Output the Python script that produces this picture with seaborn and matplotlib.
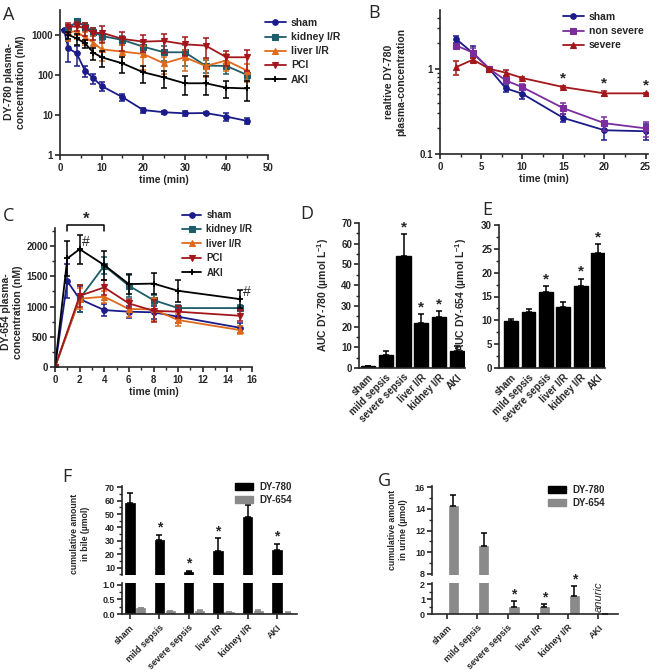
import numpy as np
import matplotlib
matplotlib.use("Agg")
import matplotlib.pyplot as plt
import seaborn as sns
from matplotlib.ticker import MultipleLocator, FixedLocator, NullFormatter, FormatStrFormatter
from matplotlib.lines import Line2D
from matplotlib.patches import Patch

# ---- panel A: DY-780 plasma concentration (nM)
a_time = [1, 2, 4, 6, 8, 10, 15, 20, 25, 30, 35, 40, 45]
a_time_inj = [2, 4, 6, 8, 10, 15, 20, 25, 30, 35, 40, 45]
a_sham = [1300, 464, 347, 128, 83, 53, 28, 13.3, 11.7, 11, 11.2, 9.1, 7.1]
a_sham_err = [0, 250, 180, 40, 25, 14, 6, 1.8, 1, 1.5, 0.8, 2.2, 1.3]
a_kidney = [1380, 2240, 1620, 1210, 944, 750, 510, 369, 369, 171, 168, 100]
a_kidney_err = [300, 300, 350, 250, 200, 200, 150, 150, 200, 60, 60, 25]
a_liver = [1210, 1210, 873, 644, 437, 383, 335, 195, 277, 168, 229, 128]
a_liver_err = [500, 400, 300, 300, 220, 180, 200, 90, 150, 80, 100, 60]
a_pci = [1550, 1680, 1468, 1100, 1140, 795, 681, 707, 584, 541, 277, 277]
a_pci_err = [400, 450, 500, 350, 500, 400, 300, 350, 280, 280, 110, 150]
a_aki = [1000, 826, 619, 362, 277, 195, 117, 87, 62, 62, 48, 46]
a_aki_err = [200, 250, 150, 120, 120, 80, 55, 40, 30, 30, 22, 24]

# ---- panel B: relative DY-780 concentration
b_time = [2, 4, 6, 8, 10, 15, 20, 25]
b_sham = [2.22, 1.53, 1.0, 0.59, 0.51, 0.265, 0.19, 0.185]
b_sham_err = [0.22, 0.3, 0.0, 0.06, 0.07, 0.03, 0.045, 0.04]
b_nonsev = [1.87, 1.55, 1.0, 0.73, 0.61, 0.345, 0.23, 0.2]
b_nonsev_err = [0.1, 0.2, 0.0, 0.05, 0.05, 0.05, 0.045, 0.04]
b_severe = [1.05, 1.28, 1.0, 0.9, 0.78, 0.61, 0.515, 0.515]
b_severe_err = [0.2, 0.07, 0.0, 0.08, 0.03, 0.02, 0.04, 0.01]
b_star_time = [15, 20, 25]

# ---- panel C: DY-654 plasma concentration (nM)
c_time = [0, 1, 2, 4, 6, 8, 10, 15]
c_time_inj = [0, 2, 4, 6, 8, 10, 15]
c_sham = [0, 1420, 1124, 942, 915, 905, 832, 650]
c_sham_err = [0, 280, 220, 100, 100, 110, 100, 80]
c_kidney = [0, 1130, 1675, 1344, 1107, 975, 975]
c_kidney_err = [0, 220, 140, 180, 80, 50, 50]
c_liver = [0, 1130, 1163, 960, 953, 777, 612]
c_liver_err = [0, 170, 100, 130, 190, 100, 60]
c_pci = [0, 1178, 1317, 1052, 930, 915, 848]
c_pci_err = [0, 180, 130, 80, 180, 100, 90]
c_aki = [0, 1796, 1950, 1686, 1372, 1380, 1261, 1124]
c_aki_err = [0, 290, 240, 240, 170, 180, 180, 150]

# ---- panels D-G: bars
groups = ["sham", "mild sepsis", "severe sepsis", "liver I/R", "kidney I/R", "AKI"]
d_auc = [0.8, 6.5, 54.0, 21.5, 24.5, 8.0]
d_auc_err = [0.2, 1.5, 10.5, 4.5, 3.0, 2.5]
d_star = [False, False, True, True, True, False]
e_auc = [9.8, 11.7, 16.0, 12.9, 17.3, 24.2]
e_auc_err = [0.5, 0.7, 1.1, 1.0, 1.4, 1.8]
e_star = [False, False, True, False, True, True]
f_dy780 = [58.5, 30.3, 7.1, 22.5, 47.6, 23.2]
f_dy780_err = [7.5, 4.2, 0.6, 9.5, 9.2, 4.5]
f_dy654 = [0.2, 0.09, 0.09, 0.06, 0.09, 0.05]
f_dy654_err = [0.02, 0.02, 0.03, 0.01, 0.03, 0.01]
f_star = [False, True, True, True, False, True]
g_dy780 = [0, 0, 0, 0, 0, 0]
g_dy654 = [14.25, 10.6, 0.45, 0.49, 1.24, 0]
g_dy654_err = [1.0, 1.15, 0.43, 0.18, 0.65, 0]
g_star = [False, False, True, True, True, False]

navy = "#1b1b8a"
teal = "#1d5c68"
orange = "#e06a1b"
dred = "#a3171c"
purple = "#7b2d9e"
grey = "#8a8a8a"

sns.set_style("ticks")
plt.rcParams["font.family"] = ["Liberation Sans", "DejaVu Sans"]
plt.rcParams["font.weight"] = "bold"
plt.rcParams["axes.labelweight"] = "bold"
plt.rcParams["mathtext.fontset"] = "custom"
plt.rcParams["mathtext.rm"] = "Liberation Sans:bold"
plt.rcParams["mathtext.bf"] = "Liberation Sans:bold"
plt.rcParams["mathtext.default"] = "bf"
plt.rcParams["axes.linewidth"] = 1.2
plt.rcParams["xtick.major.width"] = 1.2
plt.rcParams["ytick.major.width"] = 1.2
plt.rcParams["xtick.minor.width"] = 1.0
plt.rcParams["ytick.minor.width"] = 1.0
plt.rcParams["xtick.major.size"] = 3.5
plt.rcParams["ytick.major.size"] = 3.5
plt.rcParams["xtick.minor.size"] = 2
plt.rcParams["ytick.minor.size"] = 2
plt.rcParams["xtick.labelsize"] = 7
plt.rcParams["ytick.labelsize"] = 7
plt.rcParams["xtick.major.pad"] = 2
plt.rcParams["ytick.major.pad"] = 1.5

W, H = 660, 672
fig = plt.figure(figsize=(6.6, 6.72), dpi=100)


def px_axes(left, top, right, bottom):
    return fig.add_axes([left / W, 1 - bottom / H, (right - left) / W, (bottom - top) / H])


def fig_text(x, y, s, **kw):
    fig.text(x / W, 1 - y / H, s, **kw)


def clean(ax):
    for side in ["top", "right"]:
        ax.spines[side].set_visible(False)


def series(ax, x, y, err, color, marker, label, ms=4):
    sns.lineplot(x=x, y=y, color=color, marker=marker, markersize=ms, markeredgecolor=color,
                 markeredgewidth=1.3 if marker == "+" else 0.8, linewidth=1.3, ax=ax)
    ax.errorbar(x, y, yerr=err, fmt="none", ecolor=color, elinewidth=1.1, capsize=2.2, capthick=1.1)
    return Line2D([], [], color=color, marker=marker, markersize=ms, markeredgecolor=color,
                  markeredgewidth=1.3 if marker == "+" else 0.8, linewidth=1.3, label=label)


def legend(ax, handles, x, y, **kw):
    opts = dict(loc="upper left", bbox_to_anchor=(x / W, 1 - y / H), bbox_transform=fig.transFigure,
                frameon=False, borderpad=0, borderaxespad=0, fontsize=7.5, handlelength=2.0,
                handletextpad=0.5, labelspacing=0.4, numpoints=1)
    opts.update(kw)
    ax.legend(handles=handles, **opts)


def star(ax, x, y, dy=0, size=11):
    ax.annotate("*", (x, y), xytext=(0, dy), textcoords="offset points", ha="center", va="bottom",
                fontsize=size, fontweight="bold", annotation_clip=False)


# ---------------- A
ax = px_axes(60, 10, 268, 155)
hs = [series(ax, a_time, a_sham, a_sham_err, navy, "o", "sham"),
      series(ax, a_time_inj, a_kidney, a_kidney_err, teal, "s", "kidney I/R"),
      series(ax, a_time_inj, a_liver, a_liver_err, orange, "^", "liver I/R"),
      series(ax, a_time_inj, a_pci, a_pci_err, dred, "v", "PCI"),
      series(ax, a_time_inj, a_aki, a_aki_err, "black", "+", "AKI", ms=5)]
ax.set_yscale("log")
ax.set_ylim(1, 4200)
ax.set_xlim(0, 50)
ax.yaxis.set_major_locator(FixedLocator([1, 10, 100, 1000]))
ax.yaxis.set_major_formatter(FormatStrFormatter("%g"))
ax.yaxis.set_minor_locator(FixedLocator([]))
ax.xaxis.set_major_locator(MultipleLocator(10))
ax.xaxis.set_minor_locator(MultipleLocator(5))
ax.set_xlabel("time (min)", fontsize=7.5, labelpad=2)
ax.set_ylabel("")
clean(ax)
legend(ax, hs, 265, 18)
fig_text(15, 82, "DY-780 plasma-\nconcentration (nM)", rotation=90, ha="center", va="center",
         fontsize=7.5, linespacing=1.2)

# ---------------- B
ax = px_axes(440, 10, 648, 154)
hs = [series(ax, b_time, b_sham, b_sham_err, navy, "o", "sham"),
      series(ax, b_time, b_nonsev, b_nonsev_err, purple, "s", "non severe"),
      series(ax, b_time, b_severe, b_severe_err, dred, "^", "severe")]
ax.set_yscale("log")
ax.set_ylim(0.1, 4.9)
ax.set_xlim(0, 25.3)
ax.yaxis.set_major_locator(FixedLocator([0.1, 1]))
ax.yaxis.set_major_formatter(FormatStrFormatter("%g"))
ax.yaxis.set_minor_formatter(NullFormatter())
ax.xaxis.set_major_locator(MultipleLocator(5))
ax.xaxis.set_minor_locator(MultipleLocator(2.5))
ax.set_xlabel("time (min)", fontsize=7.5, labelpad=2)
ax.set_ylabel("")
clean(ax)
for t in b_star_time:
    i = b_time.index(t)
    star(ax, t, b_severe[i] + b_severe_err[i])
legend(ax, hs, 563, 12)
fig_text(395, 82, "realtive DY-780\nplasma-concentration", rotation=90, ha="center", va="center",
         fontsize=7.5, linespacing=1.2)

# ---------------- C
ax = px_axes(55, 228, 252, 367)
hs = [series(ax, c_time, c_sham, c_sham_err, navy, "o", "sham"),
      series(ax, c_time_inj, c_kidney, c_kidney_err, teal, "s", "kidney I/R"),
      series(ax, c_time_inj, c_liver, c_liver_err, orange, "^", "liver I/R"),
      series(ax, c_time_inj, c_pci, c_pci_err, dred, "v", "PCI"),
      series(ax, c_time, c_aki, c_aki_err, "black", "+", "AKI", ms=5)]
ax.set_ylim(0, 2300)
ax.set_xlim(0, 16)
ax.yaxis.set_major_locator(MultipleLocator(500))
ax.yaxis.set_minor_locator(MultipleLocator(250))
ax.xaxis.set_major_locator(MultipleLocator(2))
ax.xaxis.set_minor_locator(MultipleLocator(1))
ax.set_xlabel("time (min)", fontsize=7.5, labelpad=2)
ax.set_ylabel("")
clean(ax)
ax.plot([1, 1, 4, 4], [2245, 2355, 2355, 2245], color="black", lw=1.1, clip_on=False)
ax.text(2.5, 2440, "*", ha="center", va="center", fontsize=12, fontweight="bold")
ax.text(2.2, 2070, "#", ha="left", va="center", fontsize=10, fontweight="normal")
ax.text(15.25, 1235, "#", ha="left", va="center", fontsize=10, fontweight="normal")
legend(ax, hs, 182, 210, fontsize=7, labelspacing=0.45)
fig_text(12, 312, "DY-654 plasma-\nconcentration (nM)", rotation=90, ha="center", va="center",
         fontsize=7.5, linespacing=1.2)


# ---------------- D and E
def auc_panel(box, vals, errs, stars, ylim, major, minor, xlim, label, lx):
    ax = px_axes(*box)
    sns.barplot(x=groups, y=vals, color="black", width=0.8, ax=ax, edgecolor="black")
    ax.errorbar(range(len(vals)), vals, yerr=[np.zeros(len(vals)), errs], fmt="none",
                ecolor="black", elinewidth=1.1, capsize=2.5, capthick=1.1)
    ax.set_ylim(*ylim)
    ax.set_xlim(*xlim)
    ax.yaxis.set_major_locator(MultipleLocator(major))
    ax.yaxis.set_minor_locator(MultipleLocator(minor))
    ax.set_xticks(range(len(groups)))
    ax.set_xticklabels(groups, rotation=45, ha="right", rotation_mode="anchor", fontsize=7)
    ax.tick_params(axis="x", length=0, pad=3)
    ax.set_ylabel("")
    clean(ax)
    for i, s in enumerate(stars):
        if s:
            star(ax, i, vals[i] + errs[i])
    fig_text(lx, 295, label, rotation=90, ha="center", va="center", fontsize=7.5)
    return ax


auc_panel((359, 223, 465, 368), d_auc, d_auc_err, d_star, (0, 70), 10, 5, (-0.5, 5.45),
          "AUC DY-780 (µmol L$^{-1}$)", 323)
auc_panel((499, 225, 605, 368), e_auc, e_auc_err, e_star, (0, 30), 5, 2.5, (-0.7, 5.4),
          "AUC DY-654 (µmol L$^{-1}$)", 461)


# ---------------- F and G (broken axes)
def broken_panel(left, right, up_lim, lo_lim, up_ticks, lo_ticks, up_minor, lo_minor, xlim,
                 x780, v780, e780, x654, v654, e654, stars, star_src, lo_fmt):
    up = px_axes(left, 486, right, 575)
    lo = px_axes(left, 583, right, 614)
    for a in (up, lo):
        a.bar(x780, v780, width=0.32, color="black", edgecolor="black", linewidth=0.5)
        a.bar(x654, v654, width=0.31, color=grey, edgecolor=grey, linewidth=0.5)
        if e780 is not None:
            a.errorbar(x780, v780, yerr=[np.zeros(6), e780], fmt="none", ecolor="black",
                       elinewidth=1.1, capsize=2.2, capthick=1.1)
        a.errorbar(x654, v654, yerr=[np.zeros(6), e654], fmt="none",
                   ecolor=grey if e780 is not None else "black",
                   elinewidth=1.1, capsize=2.2, capthick=1.1)
        a.set_xlim(*xlim)
        a.tick_params(labelsize=6.5)
        clean(a)
    up.set_ylim(*up_lim)
    lo.set_ylim(*lo_lim)
    up.spines["bottom"].set_visible(False)
    up.tick_params(axis="x", bottom=False, labelbottom=False)
    up.yaxis.set_major_locator(FixedLocator(up_ticks))
    up.yaxis.set_minor_locator(MultipleLocator(up_minor))
    lo.yaxis.set_major_locator(FixedLocator(lo_ticks))
    lo.yaxis.set_minor_locator(MultipleLocator(lo_minor))
    lo.yaxis.set_major_formatter(FormatStrFormatter(lo_fmt))
    lo.set_xticks(range(6))
    lo.set_xticklabels(groups, rotation=45, ha="right", rotation_mode="anchor", fontsize=6.5)
    lo.tick_params(axis="x", pad=3)
    for i, s in enumerate(stars):
        if s:
            xv, top, ax_s = star_src(i)
            star(ax_s(up, lo), xv, top, size=10)
    return up, lo


idx = np.arange(6)
f_up, f_lo = broken_panel(122, 297, (4.5, 71), (0, 1.06), [10, 20, 30, 40, 50, 60, 70],
                          [0.0, 0.5, 1.0], 5, 0.25, (-0.27, 5.68),
                          idx, f_dy780, f_dy780_err, idx + 0.37, f_dy654, f_dy654_err, f_star,
                          lambda i: (i, f_dy780[i] + f_dy780_err[i], lambda u, l: u), "%.1f")
f_up.legend(handles=[Patch(color="black", label="DY-780"), Patch(color=grey, label="DY-654")],
            loc="upper left", bbox_to_anchor=(235 / W, 1 - 482 / H), bbox_transform=fig.transFigure,
            frameon=False, borderpad=0, borderaxespad=0, fontsize=7, handlelength=1.9,
            handleheight=0.7, handletextpad=0.6, labelspacing=0.3)
fig_text(80, 534, "cumulative amount\nin bile (µmol)", rotation=90, ha="center", va="center",
         fontsize=6.3, linespacing=1.35)

g_up, g_lo = broken_panel(432, 618, (7.9, 16.1), (0, 2.1), [8, 10, 12, 14, 16], [0, 1, 2], 1, 0.5,
                          (-0.5, 5.65), idx - 0.15, g_dy780, None, idx + 0.21, g_dy654, g_dy654_err,
                          g_star, lambda i: (i + 0.21, g_dy654[i] + g_dy654_err[i], lambda u, l: l), "%g")
g_lo.text(5, 0.12, "anuric", rotation=90, style="italic", fontweight="normal", ha="center",
          va="bottom", fontsize=8, clip_on=False)
g_up.legend(handles=[Patch(color="black", label="DY-780"), Patch(color=grey, label="DY-654")],
            loc="upper left", bbox_to_anchor=(548 / W, 1 - 485 / H), bbox_transform=fig.transFigure,
            frameon=False, borderpad=0, borderaxespad=0, fontsize=7, handlelength=1.9,
            handleheight=0.7, handletextpad=0.6, labelspacing=0.3)
fig_text(398, 530, "cumulative amount\nin urine (µmol)", rotation=90, ha="center", va="center",
         fontsize=6.3, linespacing=1.35)

# panel letters
for letter, x, y in [("A", 3, 20), ("B", 368, 18), ("C", 3, 221), ("D", 300, 219),
                     ("E", 482, 215), ("F", 62, 482), ("G", 378, 486)]:
    fig_text(x, y, letter, fontsize=13, fontweight="normal", family="Open Sans", ha="left",
             va="baseline")

fig.savefig("out.png", dpi=100, facecolor="white")
